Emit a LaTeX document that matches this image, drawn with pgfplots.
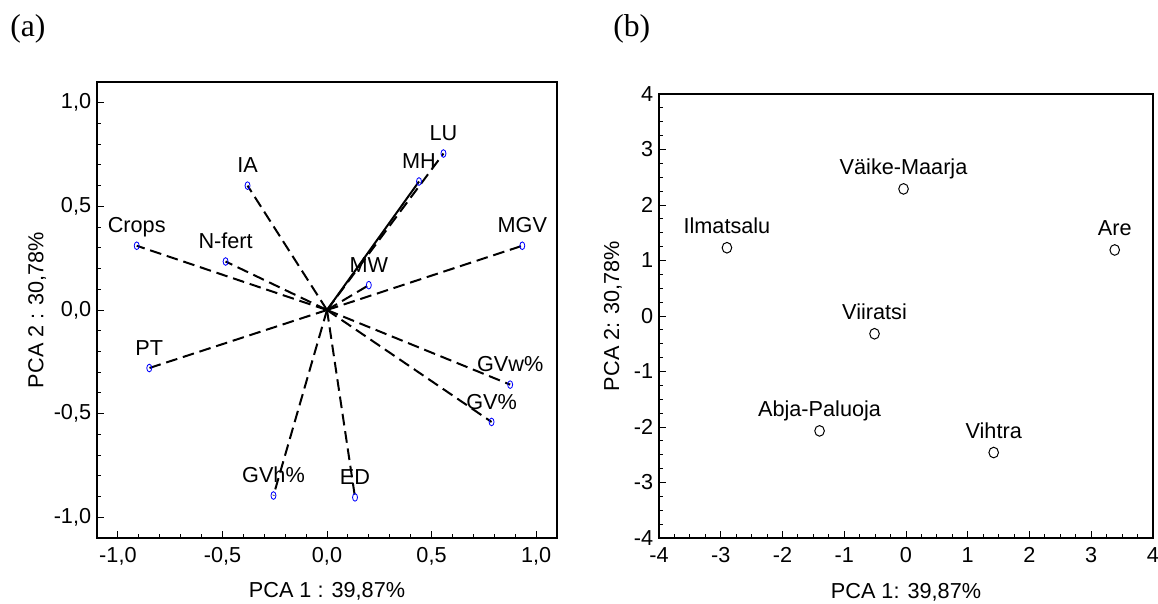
\documentclass[border=0pt]{standalone}
\usepackage{pgfplots}
\pgfplotsset{compat=1.18}
\usepackage{fontspec}
\setmainfont{Liberation Sans}
\newfontfamily\serif{Liberation Serif}

\begin{document}
\begin{tikzpicture}
\useasboundingbox (0,0) rectangle (694.8pt,361.8pt);
\pgfplotsset{
  pcabox/.style={
    scale only axis, clip=false,
    axis line style={line width=0.8pt},
    tick style={black, line width=0.6pt},
    major tick length=4pt, minor tick length=2.5pt,
    xtick pos=left, ytick pos=left,
    tick label style={font=\fontsize{13}{15}\selectfont},
    xticklabel style={yshift=-2pt},
    label style={font=\fontsize{13}{15}\selectfont},
    /pgf/number format/assume math mode=true,
  },
  vec/.style={black, line width=1.2pt, dash pattern=on 7pt off 3.5pt},
}

% (a) loadings
\begin{axis}[pcabox,
  at={(58.2pt,39pt)}, anchor=south west, width=276pt, height=273.6pt,
  xmin=-1.1, xmax=1.1, ymin=-1.1, ymax=1.1,
  xtick={-1,-0.5,0,0.5,1}, ytick={-1,-0.5,0,0.5,1},
  minor x tick num=4, minor y tick num=4,
  xticklabel style={/pgf/number format/.cd, fixed, fixed zerofill, precision=1, use comma},
  yticklabel style={/pgf/number format/.cd, fixed, fixed zerofill, precision=1, use comma},
  xlabel={PCA 1 : 39,87\%}, ylabel={PCA 2 : 30,78\%},
  xlabel style={at={(axis description cs:0.5,-0.118)}, anchor=center},
  ylabel style={at={(axis description cs:-0.13,0.5)}, anchor=center},
]
\addplot[vec] coordinates {(0,0)(0.557,0.755)};
\addplot[black, line width=1.2pt] coordinates {(0,0)(0.44,0.62)};
\addplot[vec] coordinates {(0,0)(-0.38,0.60)};
\addplot[vec] coordinates {(0,0)(-0.91,0.31)};
\addplot[vec] coordinates {(0,0)(-0.485,0.234)};
\addplot[vec] coordinates {(0,0)(0.934,0.31)};
\addplot[vec] coordinates {(0,0)(0.20,0.12)};
\addplot[vec] coordinates {(0,0)(-0.85,-0.28)};
\addplot[vec] coordinates {(0,0)(0.876,-0.36)};
\addplot[vec] coordinates {(0,0)(0.787,-0.54)};
\addplot[vec] coordinates {(0,0)(-0.256,-0.895)};
\addplot[vec] coordinates {(0,0)(0.134,-0.904)};
\addplot[only marks, blue, mark=o, mark size=2.3pt,
  mark options={xscale=0.65, line width=0.5pt},
  nodes near coords, point meta=explicit symbolic,
  every node near coord/.append style={text=black, anchor=base, inner sep=0pt,
    yshift=7.7pt, font=\fontsize{13}{15}\selectfont}]
  coordinates {
  (0.557,0.755)[LU] (0.44,0.62)[MH] (-0.38,0.60)[IA] (-0.91,0.31)[Crops]
  (-0.485,0.234)[N-fert] (0.934,0.31)[MGV] (0.20,0.12)[MW] (-0.85,-0.28)[PT]
  (0.876,-0.36)[GVw\%] (0.787,-0.54)[GV\%] (-0.256,-0.895)[GVh\%] (0.134,-0.904)[ED]
  };
\end{axis}

% (b) scores
\begin{axis}[pcabox,
  at={(395.4pt,39pt)}, anchor=south west, width=296.4pt, height=266.4pt,
  xmin=-4, xmax=4, ymin=-4, ymax=4,
  xtick={-4,...,4}, ytick={-4,...,4},
  minor x tick num=3, minor y tick num=3,
  xlabel={PCA 1: 39,87\%}, ylabel={PCA 2: 30,78\%},
  xlabel style={at={(axis description cs:0.5,-0.122)}, anchor=center},
  ylabel style={at={(axis description cs:-0.093,0.5)}, anchor=center},
]
\addplot[only marks, black, mark=o, mark size=3.2pt,
  mark options={xscale=0.9, line width=0.6pt},
  nodes near coords, point meta=explicit symbolic,
  every node near coord/.append style={text=black, anchor=base, inner sep=0pt,
    yshift=8.7pt, font=\fontsize{13}{15}\selectfont}]
  coordinates {
  (-0.04,2.29)[Väike-Maarja] (-2.90,1.23)[Ilmatsalu] (3.38,1.19)[Are]
  (-0.51,-0.32)[Viiratsi] (-1.40,-2.07)[Abja-Paluoja] (1.42,-2.46)[Vihtra]
  };
\end{axis}

\node[anchor=west, inner sep=0pt, font=\serif\fontsize{19}{21}\selectfont] at (6pt,344.4pt) {(a)};
\node[anchor=west, inner sep=0pt, font=\serif\fontsize{19}{21}\selectfont] at (367.8pt,344.4pt) {(b)};
\end{tikzpicture}
\end{document}
